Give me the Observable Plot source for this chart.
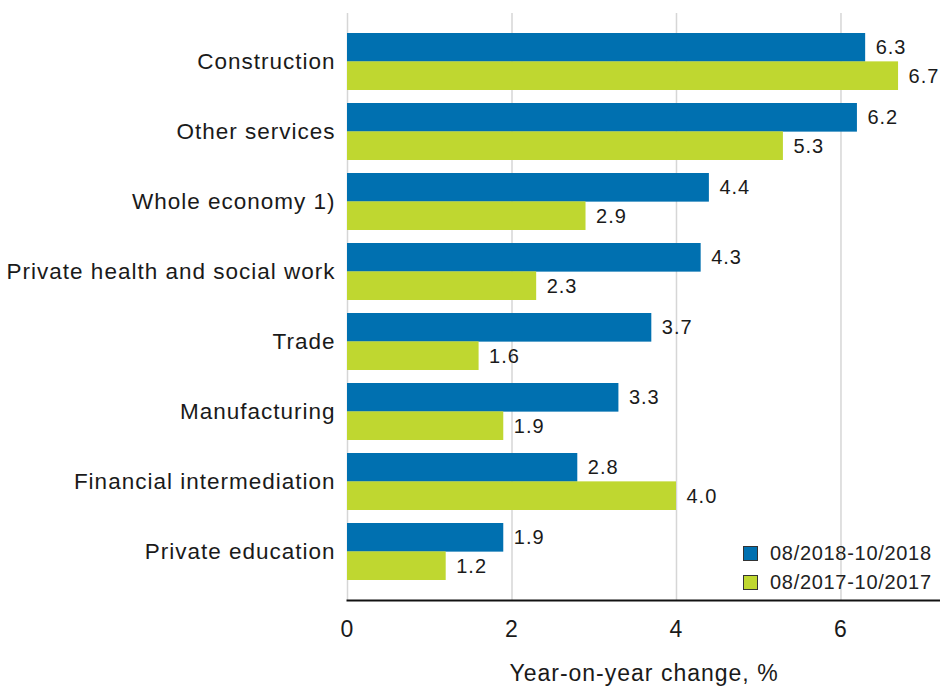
<!DOCTYPE html>
<html>
<head>
<meta charset="utf-8">
<script src="https://cdn.jsdelivr.net/npm/d3@7"></script>
<script src="https://cdn.jsdelivr.net/npm/@observablehq/plot@0.6"></script>
<style>
  html, body { margin: 0; padding: 0; background: #fff; }
  #wrap { position: relative; width: 940px; height: 686px; font-family: "Liberation Sans", Arial, sans-serif; }
  #wrap svg text { letter-spacing: 1px; }
  .legend { position: absolute; left: 743px; top: 539px; font-size: 20px; letter-spacing: 0.7px; color: #222; line-height: 29px; }
  .legend div { display: flex; align-items: center; white-space: nowrap; }
  .legend span.sw { display: inline-block; width: 15px; height: 15px; box-sizing: border-box; border: 1px solid #333; margin-right: 12px; }
</style>
</head>
<body>
<div id="wrap"></div>
<script>
const categories = ["Construction", "Other services", "Whole economy 1)", "Private health and social work", "Trade", "Manufacturing", "Financial intermediation", "Private education"];
const series = ["08/2018-10/2018", "08/2017-10/2017"];
const values2018 = [6.3, 6.2, 4.4, 4.3, 3.7, 3.3, 2.8, 1.9];
const values2017 = [6.7, 5.3, 2.9, 2.3, 1.6, 1.9, 4.0, 1.2];
const xTicks = [0, 2, 4, 6];
const colors = ["#0070b0", "#bfd730"];
const axisLabel = "Year-on-year change, %";

const rowsA = categories.map((c, i) => ({category: c, series: series[0], value: values2018[i]}));
const rowsB = categories.map((c, i) => ({category: c, series: series[1], value: values2017[i]}));

const H = 686, mTop = 13, mBottom = 86;
const pIn = 0.19, pOut = 0.2857;
const step = (H - mTop - mBottom) / (categories.length - pIn + 2 * pOut);
const half = step * (1 - pIn) / 2;

const chart = Plot.plot({
  width: 940,
  height: H,
  marginLeft: 347,
  marginRight: 0,
  marginTop: mTop,
  marginBottom: mBottom,
  style: {fontFamily: "'Liberation Sans', Arial, sans-serif", color: "#1a1a1a", background: "#fff"},
  x: {domain: [0, 7.21]},
  y: {domain: categories, paddingInner: pIn, paddingOuter: pOut},
  marks: [
    Plot.gridX(xTicks, {stroke: "#d6d6d6", strokeOpacity: 1, strokeWidth: 1.5}),
    Plot.barX(rowsA, {x: "value", y: "category", fill: colors[0], insetBottom: half}),
    Plot.barX(rowsB, {x: "value", y: "category", fill: colors[1], insetTop: half}),
    Plot.text(rowsA, {x: "value", y: "category", text: d => d.value.toFixed(1), dx: 10, dy: -half / 2, textAnchor: "start", fontSize: 20, fill: "#1a1a1a"}),
    Plot.text(rowsB, {x: "value", y: "category", text: d => d.value.toFixed(1), dx: 10, dy: half / 2, textAnchor: "start", fontSize: 20, fill: "#1a1a1a"}),
    Plot.frame({anchor: "bottom", stroke: "#111", strokeWidth: 2}),
    Plot.axisY({tickSize: 0, tickPadding: 12, fontSize: 22.5, label: null}),
    Plot.axisX(xTicks, {tickSize: 0, tickPadding: 20, fontSize: 23, label: axisLabel, labelAnchor: "center", labelArrow: "none", labelOffset: 80})
  ]
});

const wrap = document.getElementById("wrap");
wrap.appendChild(chart);

const legend = document.createElement("div");
legend.className = "legend";
series.forEach((s, i) => {
  const row = document.createElement("div");
  const sw = document.createElement("span");
  sw.className = "sw";
  sw.style.background = colors[i];
  row.appendChild(sw);
  row.appendChild(document.createTextNode(s));
  legend.appendChild(row);
});
wrap.appendChild(legend);
</script>
</body>
</html>
